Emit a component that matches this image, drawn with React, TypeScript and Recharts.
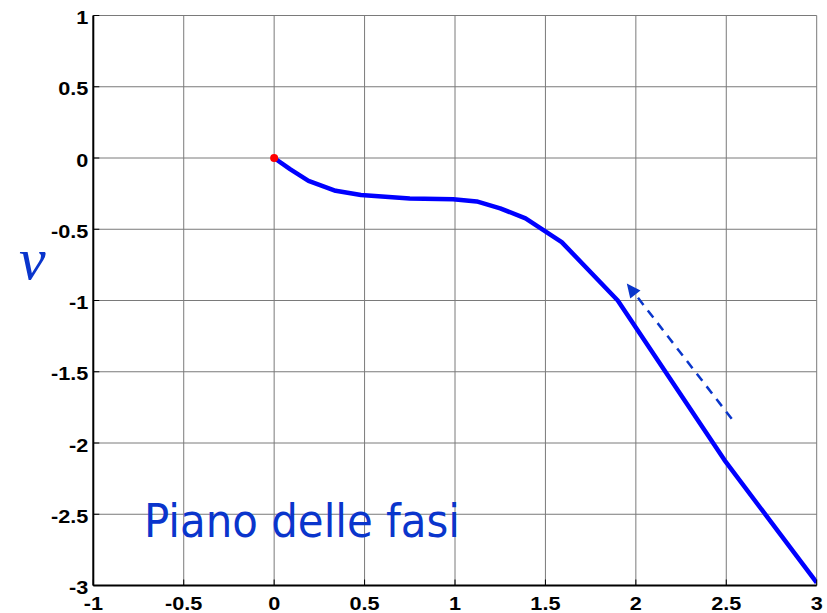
import React from "react";
import {
  LineChart,
  Line,
  XAxis,
  YAxis,
  CartesianGrid,
  ReferenceDot,
  ReferenceLine,
} from "recharts";

// phase-plane trajectory (position, velocity)
const trajX = [0, 0.09, 0.19, 0.34, 0.48, 0.75, 0.99, 1.12, 1.25, 1.39, 1.59, 1.9, 2.49, 3.0];
const trajV = [0, -0.08, -0.16, -0.23, -0.26, -0.285, -0.29, -0.305, -0.353, -0.424, -0.59, -1.0, -2.12, -2.98];

const xTicks = [-1, -0.5, 0, 0.5, 1, 1.5, 2, 2.5, 3];
const yTicks = [-3, -2.5, -2, -1.5, -1, -0.5, 0, 0.5, 1];

// starting state
const startPoint = { x: 0, y: 0 };

// direction-of-motion arrow (tail -> tip)
const arrowTail = { x: 2.53, y: -1.83 };
const arrowTip = { x: 1.95, y: -0.88 };

const data = trajX.map((x, i) => ({ x, v: trajV[i] }));

const W = 827;
const H = 613;
const TRAJ_BLUE = "#0000ff";
const NOTE_BLUE = "#0a35cc";
const TICK_FONT = "'Liberation Sans', Arial, sans-serif";
const TICK_SIZE = 19;
// tick labels are a touch wider than plain Arial
const TICK_STRETCH = 1.14;

function TickText({ x, y, anchor, value }: { x: number; y: number; anchor: string; value: any }) {
  return (
    <text
      transform={`translate(${x} ${y}) scale(${TICK_STRETCH} 1)`}
      textAnchor={anchor}
      fontFamily={TICK_FONT}
      fontSize={TICK_SIZE}
      fontWeight={700}
      fill="#000"
    >
      {value}
    </text>
  );
}

function XTick(props: any) {
  const { x, y, payload } = props;
  return <TickText x={x} y={y + 14.5} anchor="middle" value={payload.value} />;
}

function YTick(props: any) {
  const { x, y, payload } = props;
  return <TickText x={x} y={y + 8.5} anchor="end" value={payload.value} />;
}

function DashedArrow(props: any) {
  const { x1, y1, x2, y2 } = props;
  const dx = x2 - x1;
  const dy = y2 - y1;
  const len = Math.sqrt(dx * dx + dy * dy) || 1;
  const ux = dx / len;
  const uy = dy / len;
  const headLen = 14;
  const headHalf = 6.5;
  const bx = x2 - ux * headLen;
  const by = y2 - uy * headLen;
  const px = -uy;
  const py = ux;
  return (
    <g>
      <line
        x1={x1}
        y1={y1}
        x2={bx}
        y2={by}
        stroke={NOTE_BLUE}
        strokeWidth={2.5}
        strokeDasharray="9 7"
      />
      <polygon
        points={`${x2},${y2} ${bx + px * headHalf},${by + py * headHalf} ${bx - px * headHalf},${by - py * headHalf}`}
        fill={NOTE_BLUE}
      />
    </g>
  );
}

export default function App() {
  return (
    <div style={{ position: "absolute", left: 0, top: 0, width: W, height: H, background: "#fff" }}>
      <LineChart
        width={W}
        height={H}
        data={data}
        margin={{ top: 15.5, right: 10.3, bottom: 0, left: 0 }}
      >
        <CartesianGrid stroke="#7a7a7a" strokeWidth={1} />
        <XAxis
          dataKey="x"
          type="number"
          domain={[-1, 3]}
          ticks={xTicks}
          interval={0}
          height={27.5}
          tick={<XTick />}
          tickSize={-6}
          tickMargin={16}
          tickLine={{ stroke: "#000", strokeWidth: 1 }}
          axisLine={{ stroke: "#000", strokeWidth: 2 }}
          allowDataOverflow
        />
        <XAxis
          xAxisId="top"
          orientation="top"
          type="number"
          domain={[-1, 3]}
          ticks={xTicks}
          interval={0}
          height={0}
          tick={false}
          tickSize={-6}
          tickLine={{ stroke: "#000", strokeWidth: 1 }}
          axisLine={{ stroke: "#000", strokeWidth: 2 }}
        />
        <YAxis
          type="number"
          domain={[-3, 1]}
          ticks={yTicks}
          interval={0}
          width={93.3}
          tick={<YTick />}
          tickSize={-6}
          tickMargin={11}
          tickLine={{ stroke: "#000", strokeWidth: 1 }}
          axisLine={{ stroke: "#000", strokeWidth: 2 }}
          allowDataOverflow
        />
        <YAxis
          yAxisId="right"
          orientation="right"
          type="number"
          domain={[-3, 1]}
          ticks={yTicks}
          interval={0}
          width={0}
          tick={false}
          tickSize={-6}
          tickLine={{ stroke: "#000", strokeWidth: 1 }}
          axisLine={{ stroke: "#000", strokeWidth: 2 }}
        />
        <Line
          type="linear"
          dataKey="v"
          stroke={TRAJ_BLUE}
          strokeWidth={4.5}
          strokeLinejoin="round"
          dot={false}
          isAnimationActive={false}
        />
        <ReferenceLine
          segment={[arrowTail, arrowTip]}
          shape={DashedArrow}
          ifOverflow="visible"
        />
        <ReferenceDot
          x={startPoint.x}
          y={startPoint.y}
          r={4}
          fill="#ff0000"
          stroke="none"
        />
      </LineChart>
      <svg
        width={W}
        height={H}
        style={{ position: "absolute", left: 0, top: 0, pointerEvents: "none" }}
      >
        <text
          x={19}
          y={279}
          fill={NOTE_BLUE}
          fontFamily="'Liberation Serif', 'Times New Roman', serif"
          fontStyle="italic"
          fontSize={60}
        >
          v
        </text>
        <text
          x={144}
          y={537}
          fill={NOTE_BLUE}
          fontFamily="'DejaVu Sans', sans-serif"
          fontSize={46}
          textLength={316}
          lengthAdjust="spacingAndGlyphs"
        >
          Piano delle fasi
        </text>
      </svg>
    </div>
  );
}
